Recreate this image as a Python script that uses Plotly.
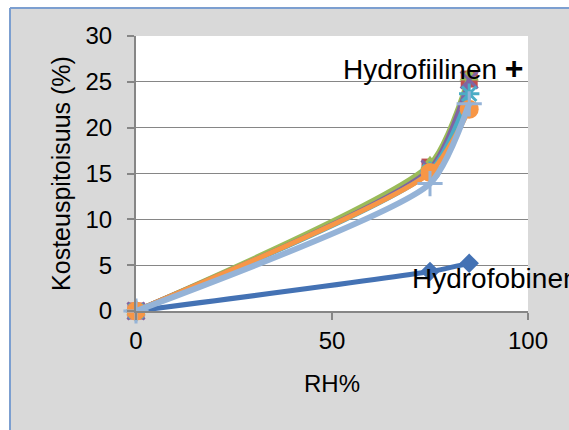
import plotly.graph_objects as go

rh = [0, 75, 85]
hydrofobinen = [0, 4.3, 5.2]
s2 = [0, 15.7, 25.3]
s3 = [0, 16.0, 25.6]
s4 = [0, 15.5, 25.2]
s5 = [0, 15.2, 23.7]
s6 = [0, 15.1, 22.0]
s7 = [0, 13.9, 22.6]

series = [
    ("Hydrofobinen", hydrofobinen, "#4472B4", "diamond", 5, 15),
    ("s2", s2, "#C0504D", "square", 5, 17),
    ("s3", s3, "#9BBB59", "triangle-up", 5, 17),
    ("s4", s4, "#8064A2", "x-thin-open", 5, 17),
    ("s5", s5, "#4BACC6", "asterisk-open", 5, 17),
    ("s6", s6, "#F79646", "circle", 5, 19),
    ("s7", s7, "#95B3D7", "cross-thin-open", 6, 18),
]

FONT = "Liberation Sans, Arial, sans-serif"

fig = go.Figure()
for name, ys, col, sym, lw, ms in series:
    fig.add_trace(go.Scatter(
        x=rh, y=ys, mode="lines+markers", name=name,
        line=dict(color=col, width=lw, shape="spline", smoothing=0.6),
        marker=dict(color=col, symbol=sym, size=ms,
                    line=dict(color=col, width=3 if "open" in sym else 0)),
        cliponaxis=False, showlegend=False,
    ))

W, H = 569, 430
L, R, T, B = 136, 41, 36, 119
pw, ph = W - L - R, H - T - B

def px(xp):
    return (xp - L) / pw

def py(yp):
    return (H - B - yp) / ph

border = "#7C9FD0"
shapes = [
    dict(type="rect", xref="paper", yref="paper", x0=px(-5), x1=px(10), y0=py(450), y1=py(-5),
         fillcolor="white", line=dict(width=0), layer="below"),
    dict(type="rect", xref="paper", yref="paper", x0=px(-5), x1=px(600), y0=py(8), y1=py(-5),
         fillcolor="white", line=dict(width=0), layer="below"),
    dict(type="line", xref="paper", yref="paper", x0=px(10), x1=px(10), y0=py(450), y1=py(8),
         line=dict(color=border, width=2)),
    dict(type="line", xref="paper", yref="paper", x0=px(10), x1=px(600), y0=py(8), y1=py(8),
         line=dict(color=border, width=2)),
]

fig.update_layout(
    width=W, height=H,
    margin=dict(l=L, r=R, t=T, b=B),
    paper_bgcolor="#D9D9D9", plot_bgcolor="white",
    font=dict(family=FONT, size=24, color="#000000"),
    shapes=shapes,
    annotations=[
        dict(x=52.3, y=26.5, xref="x", yref="y",
             text="Hydrofiilinen <span style='font-size:32px'><b>+</b></span>",
             showarrow=False, xanchor="left", yanchor="middle",
             font=dict(family=FONT, size=28, color="black")),
        dict(x=69.9, y=3.5, xref="x", yref="y", text="Hydrofobinen",
             showarrow=False, xanchor="left", yanchor="middle",
             font=dict(family=FONT, size=28, color="black")),
    ],
    xaxis=dict(range=[0, 100], tickvals=[0, 50, 100], showgrid=False, zeroline=False,
               showline=True, linecolor="#868686", linewidth=2,
               ticks="outside", ticklen=7, tickwidth=2, tickcolor="#868686",
               tickfont=dict(size=24),
               title=dict(text="RH%", standoff=22, font=dict(size=24))),
    yaxis=dict(range=[0, 30], tickvals=[0, 5, 10, 15, 20, 25, 30], showgrid=True,
               gridcolor="#868686", gridwidth=1, zeroline=False,
               showline=True, linecolor="#868686", linewidth=2,
               ticks="outside", ticklen=7, tickwidth=2, tickcolor="#868686",
               ticklabelstandoff=10, tickfont=dict(size=24),
               title=dict(text="Kosteuspitoisuus (%)", standoff=8, font=dict(size=25))),
)

fig.write_html("out.html")
